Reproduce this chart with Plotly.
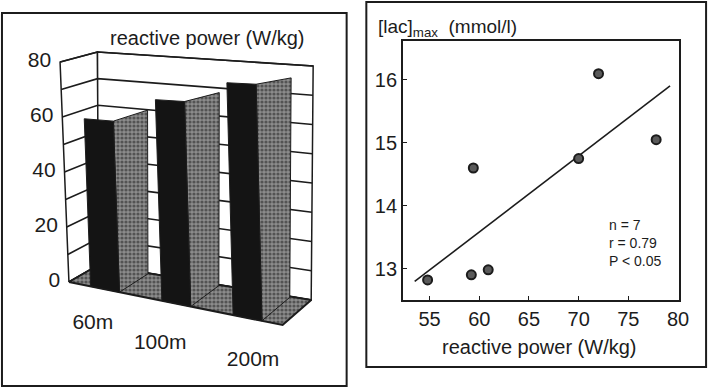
import numpy as np
import plotly.graph_objects as go

# ---------------- data ----------------
categories = ["60m", "100m", "200m"]
reactive_power = [60.0, 68.5, 75.5]          # W/kg, left panel bars
z_tick_values = [0, 20, 40, 60, 80]
grid_levels = [0, 10, 20, 30, 40, 50, 60, 70, 80]
z_max = 80

power = [54.8, 59.2, 60.9, 59.4, 70.0, 72.0, 77.8]        # reactive power (W/kg)
lactate = [12.82, 12.90, 12.98, 14.60, 14.75, 16.10, 15.05]  # [lac]max (mmol/l)
fit_x_range = [53.5, 79.2]
x_tick_values = [55, 60, 65, 70, 75, 80]
y_tick_values = [13, 14, 15, 16]

# ---------------- view geometry (style) ----------------
W, H = 722, 388
INK = "#1c1c1c"
FONT = "Liberation Sans, Arial, sans-serif"
# screen position of the 8 corners of the 3D box (u: category axis, d: depth, t: height frac)
CORNERS = {
    (0, 0, 0): (70, 282), (1, 0, 0): (287, 325), (0, 1, 0): (100, 265), (1, 1, 0): (316, 300),
    (0, 0, 1): (61, 62), (1, 0, 1): (281, 71), (0, 1, 1): (99, 52), (1, 1, 1): (318, 66),
}


def proj(u, d, z):
    t = z / z_max
    x = y = 0.0
    for (cu, cd, ct), (px_, py_) in CORNERS.items():
        w = (u if cu else 1 - u) * (d if cd else 1 - d) * (t if ct else 1 - t)
        x += w * px_
        y += w * py_
    return x, y


def poly(pts):
    xs = [p[0] for p in pts] + [pts[0][0]]
    ys = [p[1] for p in pts] + [pts[0][1]]
    return xs, ys


fig = go.Figure()

stipple = dict(shape=".", bgcolor="#8c8c8c", fgcolor="#1a1a1a", size=4, solidity=0.5)


def add_poly(pts, fill="white", pattern=None, lw=1.5):
    xs, ys = poly(pts)
    kw = dict(fillpattern=pattern) if pattern else {}
    fig.add_trace(go.Scatter(x=xs, y=ys, mode="lines", fill="toself", fillcolor=fill,
                             line=dict(color=INK, width=lw), hoverinfo="skip",
                             showlegend=False, xaxis="x", yaxis="y", **kw))


def add_line(pts, lw=1.6):
    fig.add_trace(go.Scatter(x=[p[0] for p in pts], y=[p[1] for p in pts], mode="lines",
                             line=dict(color=INK, width=lw), hoverinfo="skip",
                             showlegend=False, xaxis="x", yaxis="y"))


# walls
add_poly([proj(0, 0, 0), proj(0, 1, 0), proj(0, 1, z_max), proj(0, 0, z_max)])
add_poly([proj(0, 1, 0), proj(1, 1, 0), proj(1, 1, z_max), proj(0, 1, z_max)])
for g in grid_levels:
    add_line([proj(0, 0, g), proj(0, 1, g), proj(1, 1, g)])
# floor
add_poly([proj(0, 0, 0), proj(1, 0, 0), proj(1, 1, 0), proj(0, 1, 0)],
         fill="#8c8c8c", pattern=stipple, lw=2)

# blocks
n = len(categories)
for i, v in enumerate(reactive_power):
    c = (i + 0.5) / n
    u0, u1 = c - 0.065, c + 0.07
    depth = 0.97
    # side face (stippled)
    add_poly([proj(u1, 0, 0), proj(u1, depth, 0), proj(u1, depth, v), proj(u1, 0, v)],
             fill="#8c8c8c", pattern=stipple, lw=1)
    # front face (dark)
    add_poly([proj(u0, 0, 0), proj(u1, 0, 0), proj(u1, 0, v), proj(u0, 0, v)],
             fill="#141414", lw=1)

# z tick labels
tick_pts = [proj(0, 0, z) for z in z_tick_values]
fig.add_trace(go.Scatter(x=[p[0] - 9 for p in tick_pts], y=[p[1] for p in tick_pts],
                         mode="text", text=[str(z) for z in z_tick_values],
                         textposition="middle left",
                         textfont=dict(size=21, color=INK, family=FONT),
                         hoverinfo="skip", showlegend=False, xaxis="x", yaxis="y"))
# category labels (staggered below the front floor edge)
label_dx = [-1, -5, 17]
label_dy = [37, 42, 45]
cat_pts = [proj((i + 0.5) / n - 0.05, 0, 0) for i in range(n)]
fig.add_trace(go.Scatter(x=[p[0] + dx for p, dx in zip(cat_pts, label_dx)],
                         y=[p[1] + dy for p, dy in zip(cat_pts, label_dy)],
                         mode="text", text=categories, textposition="middle center",
                         textfont=dict(size=21, color=INK, family=FONT),
                         hoverinfo="skip", showlegend=False, xaxis="x", yaxis="y"))

# ---------------- scatter panel ----------------
slope, intercept = np.polyfit(power, lactate, 1)
r = np.corrcoef(power, lactate)[0, 1]
fx = np.array(fit_x_range)
fig.add_trace(go.Scatter(x=fx, y=slope * fx + intercept, mode="lines",
                         line=dict(color=INK, width=1.6), showlegend=False,
                         xaxis="x2", yaxis="y2"))
fig.add_trace(go.Scatter(x=power, y=lactate, mode="markers",
                         marker=dict(size=9, color="#5a5a5a", line=dict(color=INK, width=2)),
                         showlegend=False, xaxis="x2", yaxis="y2"))

axis_common = dict(showline=True, mirror=True, linecolor=INK, linewidth=1.5,
                   ticks="inside", ticklen=4, tickcolor=INK, showgrid=False,
                   zeroline=False, tickfont=dict(size=20, color=INK, family=FONT),
                   fixedrange=True)

fig.update_layout(
    width=W, height=H, margin=dict(l=0, r=0, t=0, b=0),
    paper_bgcolor="white", plot_bgcolor="white",
    xaxis=dict(domain=[0, 361 / W], range=[0, 361], visible=False, fixedrange=True),
    yaxis=dict(domain=[0, 1], range=[H, 0], visible=False, fixedrange=True),
    xaxis2=dict(domain=[409 / W, 689 / W], range=[52.3, 80.05], tickvals=x_tick_values,
                anchor="y2", **axis_common),
    yaxis2=dict(domain=[1 - 300 / H, 1 - 41 / H], range=[12.5, 16.62], tickvals=y_tick_values,
                anchor="x2", **axis_common),
    showlegend=False,
)


def px(x):
    return x / W


def py(y):
    return 1 - y / H


# panel borders
fig.add_shape(type="rect", xref="paper", yref="paper", x0=px(2), x1=px(352), y0=py(386), y1=py(13),
              line=dict(color=INK, width=2))
fig.add_shape(type="rect", xref="paper", yref="paper", x0=px(372), x1=px(717), y0=py(367), y1=py(2),
              line=dict(color=INK, width=2))

ann = dict(xref="paper", yref="paper", showarrow=False)
fig.add_annotation(x=px(211), y=py(38), text="reactive power (W/kg)", xanchor="center",
                   yanchor="middle", font=dict(size=20, color=INK, family=FONT), **ann)
fig.add_annotation(x=px(548), y=py(347), text="reactive power (W/kg)", xanchor="center",
                   yanchor="middle", font=dict(size=20, color=INK, family=FONT), **ann)
fig.add_annotation(x=px(382), y=py(28),
                   text="[lac]<sub>max</sub>  (mmol/l)",
                   xanchor="left", yanchor="middle", font=dict(size=19, color=INK, family=FONT), **ann)
fig.add_annotation(x=px(616), y=py(243), align="left",
                   text=f"n = {len(power)}<br>r = {r:.2f}<br>P < 0.05",
                   xanchor="left", yanchor="middle", font=dict(size=14, color=INK, family=FONT), **ann)

fig.write_html("out.html")
